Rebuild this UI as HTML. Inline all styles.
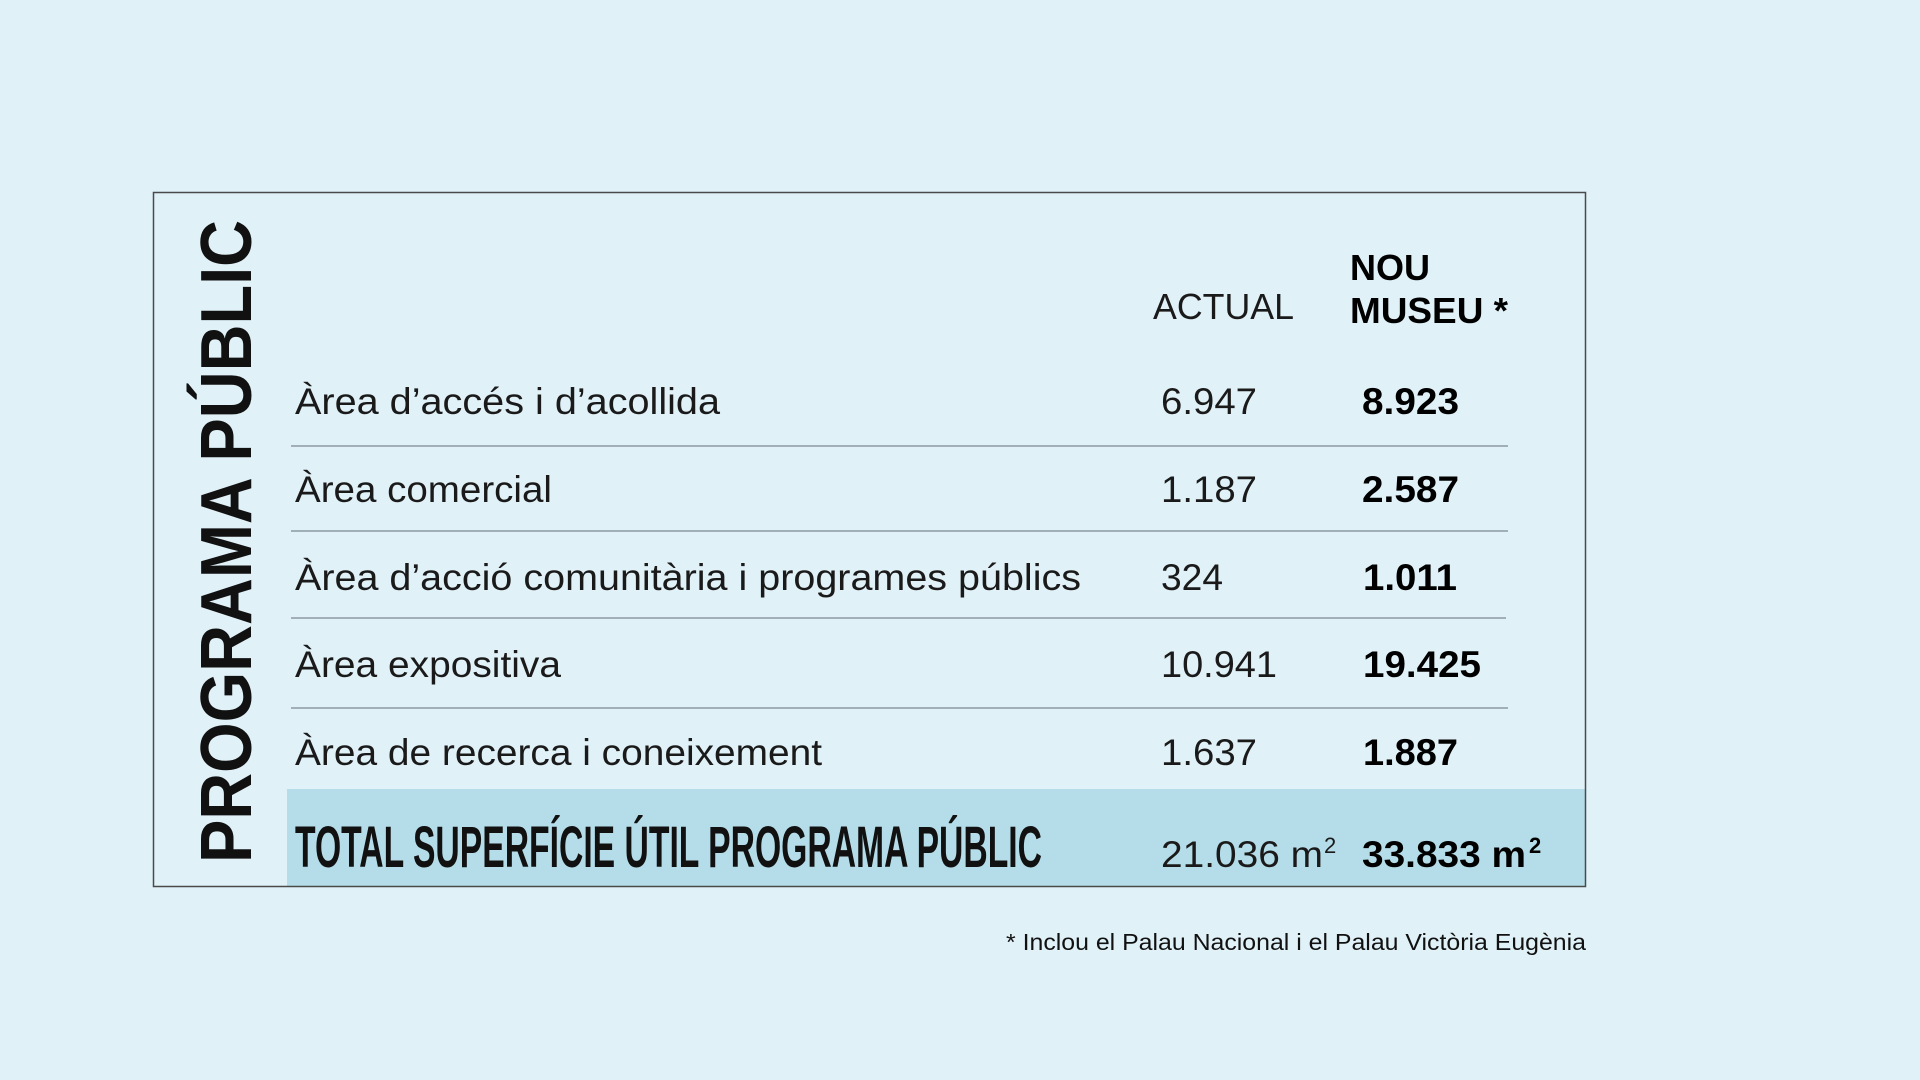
<!DOCTYPE html>
<html><head><meta charset="utf-8"><style>
html,body{margin:0;padding:0;background:#e0f1f8;}
svg{display:block}
</style></head><body>
<svg width="1920" height="1080" viewBox="0 0 1920 1080" xmlns="http://www.w3.org/2000/svg" font-family="Liberation Sans, sans-serif">
<rect width="1920" height="1080" fill="#e0f1f8"/>
<rect x="287" y="789" width="1299" height="98" fill="#b5dde9"/>
<rect x="153.5" y="192.5" width="1432" height="694" fill="none" stroke="#4a4a4a" stroke-width="1.5"/>
<text transform="translate(251,863) rotate(-90)" font-size="72" font-weight="bold" fill="#111" textLength="643" lengthAdjust="spacingAndGlyphs">PROGRAMA PÚBLIC</text>
<g fill="#1a1a1a" font-size="36">
<text x="1153" y="319" textLength="141" lengthAdjust="spacingAndGlyphs">ACTUAL</text>
<text x="1350" y="280" font-weight="bold" fill="#000" textLength="80" lengthAdjust="spacingAndGlyphs">NOU</text>
<text x="1350" y="323" font-weight="bold" fill="#000" textLength="158" lengthAdjust="spacingAndGlyphs">MUSEU  *</text>
</g>
<g stroke="#8c9aa3" stroke-width="1.5">
<line x1="291" y1="446" x2="1508" y2="446"/>
<line x1="291" y1="531" x2="1508" y2="531"/>
<line x1="291" y1="618" x2="1506" y2="618"/>
<line x1="291" y1="708" x2="1508" y2="708"/>
</g>
<g fill="#1a1a1a" font-size="37">
<text x="295" y="414" textLength="425" lengthAdjust="spacingAndGlyphs">Àrea d’accés i d’acollida</text>
<text x="295" y="502" textLength="257" lengthAdjust="spacingAndGlyphs">Àrea comercial</text>
<text x="295" y="590" textLength="786" lengthAdjust="spacingAndGlyphs">Àrea d’acció comunitària i programes públics</text>
<text x="295" y="677" textLength="266" lengthAdjust="spacingAndGlyphs">Àrea expositiva</text>
<text x="295" y="765" textLength="527" lengthAdjust="spacingAndGlyphs">Àrea de recerca i coneixement</text>
<text x="1161" y="414" textLength="96" lengthAdjust="spacingAndGlyphs">6.947</text>
<text x="1161" y="502" textLength="96" lengthAdjust="spacingAndGlyphs">1.187</text>
<text x="1161" y="590" textLength="62" lengthAdjust="spacingAndGlyphs">324</text>
<text x="1161" y="677" textLength="116" lengthAdjust="spacingAndGlyphs">10.941</text>
<text x="1161" y="765" textLength="96" lengthAdjust="spacingAndGlyphs">1.637</text>
</g>
<g fill="#000" font-size="37" font-weight="bold">
<text x="1362" y="414" textLength="97" lengthAdjust="spacingAndGlyphs">8.923</text>
<text x="1362" y="502" textLength="97" lengthAdjust="spacingAndGlyphs">2.587</text>
<text x="1363" y="590" textLength="94" lengthAdjust="spacingAndGlyphs">1.011</text>
<text x="1363" y="677" textLength="118" lengthAdjust="spacingAndGlyphs">19.425</text>
<text x="1363" y="765" textLength="95" lengthAdjust="spacingAndGlyphs">1.887</text>
</g>
<text x="295" y="867" font-size="58" font-weight="bold" fill="#111" textLength="747" lengthAdjust="spacingAndGlyphs">TOTAL SUPERFÍCIE ÚTIL PROGRAMA PÚBLIC</text>
<text x="1161" y="867" font-size="37" fill="#1a1a1a" textLength="162" lengthAdjust="spacingAndGlyphs">21.036 m</text>
<text x="1324" y="853" font-size="22" fill="#1a1a1a">2</text>
<text x="1362" y="867" font-size="37" font-weight="bold" fill="#000" textLength="164" lengthAdjust="spacingAndGlyphs">33.833 m</text>
<text x="1529" y="853" font-size="22" font-weight="bold" fill="#000">2</text>
<text x="1586" y="950" font-size="23" fill="#111" text-anchor="end" textLength="580" lengthAdjust="spacingAndGlyphs">* Inclou el Palau Nacional i el Palau Victòria Eugènia</text>
</svg>
</body></html>
